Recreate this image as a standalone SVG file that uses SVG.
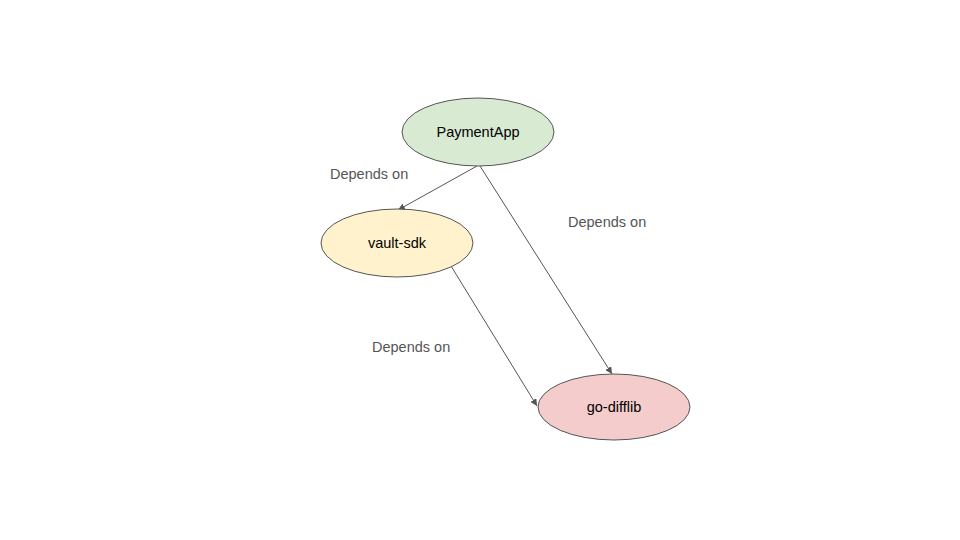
<svg xmlns="http://www.w3.org/2000/svg" width="960" height="540" viewBox="0 0 960 540">
<defs>
<marker id="arr" viewBox="0 0 10 10" refX="10" refY="5" markerWidth="7" markerHeight="7" orient="auto" markerUnits="userSpaceOnUse">
<path d="M0,0 L10,5 L0,10 z" fill="#555"/>
</marker>
<style>
.node{stroke:#555;stroke-width:1}
.lbl{font-family:"Liberation Sans",Arial,sans-serif;font-size:14.5px;fill:#000;text-anchor:middle;dominant-baseline:central}
.elbl{font-family:"Liberation Sans",Arial,sans-serif;font-size:14.5px;fill:#555}
.edge{stroke:#555;stroke-width:1;fill:none;marker-end:url(#arr)}
</style>
</defs>
<rect width="960" height="540" fill="#fff"/>
<g id="connectors">
<line class="edge" x1="477" y1="166" x2="398" y2="210"/>
<line class="edge" x1="480" y1="166" x2="612" y2="374"/>
<line class="edge" x1="451" y1="266" x2="537" y2="406"/>
<text class="elbl" x="330" y="179">Depends on</text>
<text class="elbl" x="568" y="227">Depends on</text>
<text class="elbl" x="372" y="352">Depends on</text>
</g>
<g id="PaymentApp">
<ellipse class="node" cx="478" cy="132" rx="76" ry="34" fill="#d9ead3"/>
<text class="lbl" x="478" y="132">PaymentApp</text>
</g>
<g id="vault-sdk">
<ellipse class="node" cx="397" cy="243" rx="76" ry="34" fill="#fff2cc"/>
<text class="lbl" x="397" y="243">vault-sdk</text>
</g>
<g id="go-difflib">
<ellipse class="node" cx="614" cy="407" rx="76" ry="33" fill="#f4cccc"/>
<text class="lbl" x="614" y="407">go-difflib</text>
</g>
</svg>
